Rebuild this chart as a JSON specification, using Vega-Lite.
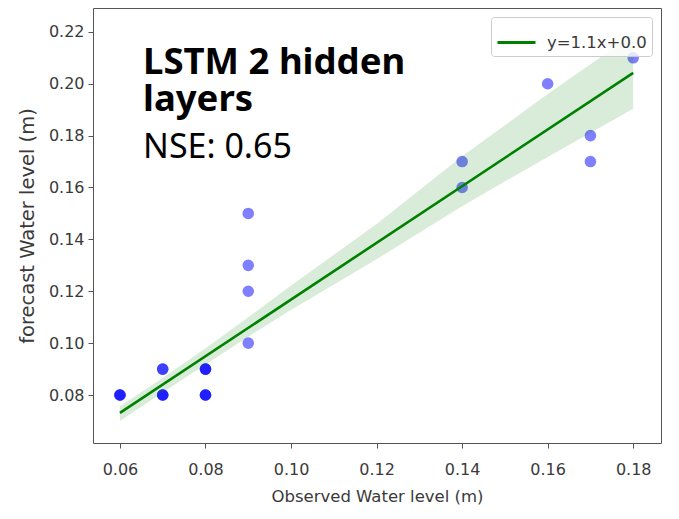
{
  "$schema": "https://vega.github.io/schema/vega-lite/v6.json",
  "width": 568,
  "height": 435,
  "autosize": "none",
  "padding": {"left": 93, "top": 8, "right": 18, "bottom": 76},
  "background": "white",
  "config": {
    "view": {"stroke": "#555555", "strokeWidth": 1},
    "axis": {
      "domain": false,
      "grid": false,
      "tickColor": "#555555",
      "tickSize": 5,
      "labelFont": "DejaVu Sans",
      "labelFontSize": 16,
      "labelColor": "#3a3a3a",
      "titleFont": "DejaVu Sans",
      "titleFontSize": 16.5,
      "titleFontWeight": "normal",
      "titleColor": "#3a3a3a"
    },
    "legend": {
      "orient": "top-right",
      "offset": 9,
      "title": null,
      "strokeColor": "#cccccc",
      "fillColor": "rgba(255,255,255,0.8)",
      "cornerRadius": 3,
      "padding": 5,
      "symbolType": "stroke",
      "symbolStrokeWidth": 3,
      "symbolSize": 1444,
      "labelOffset": 10,
      "labelFont": "DejaVu Sans",
      "labelFontSize": 16.5,
      "labelColor": "#3a3a3a"
    }
  },
  "datasets": {
    "points": [
      {"obs": 0.06, "fc": 0.08}, {"obs": 0.06, "fc": 0.08}, {"obs": 0.06, "fc": 0.08},
      {"obs": 0.07, "fc": 0.08}, {"obs": 0.07, "fc": 0.08}, {"obs": 0.07, "fc": 0.08},
      {"obs": 0.07, "fc": 0.09}, {"obs": 0.07, "fc": 0.09},
      {"obs": 0.08, "fc": 0.09}, {"obs": 0.08, "fc": 0.09}, {"obs": 0.08, "fc": 0.09},
      {"obs": 0.08, "fc": 0.08}, {"obs": 0.08, "fc": 0.08}, {"obs": 0.08, "fc": 0.08},
      {"obs": 0.09, "fc": 0.10}, {"obs": 0.09, "fc": 0.12}, {"obs": 0.09, "fc": 0.13}, {"obs": 0.09, "fc": 0.15},
      {"obs": 0.14, "fc": 0.16}, {"obs": 0.14, "fc": 0.17},
      {"obs": 0.16, "fc": 0.20},
      {"obs": 0.17, "fc": 0.17}, {"obs": 0.17, "fc": 0.18},
      {"obs": 0.18, "fc": 0.21}
    ],
    "band": [
      {"obs": 0.06, "lo": 0.0700, "hi": 0.0757},
      {"obs": 0.07, "lo": 0.0810, "hi": 0.0866},
      {"obs": 0.08, "lo": 0.0918, "hi": 0.0980},
      {"obs": 0.09, "lo": 0.1025, "hi": 0.1100},
      {"obs": 0.10, "lo": 0.1128, "hi": 0.1222},
      {"obs": 0.12, "lo": 0.1323, "hi": 0.1459},
      {"obs": 0.14, "lo": 0.1528, "hi": 0.1720},
      {"obs": 0.16, "lo": 0.1718, "hi": 0.1960},
      {"obs": 0.18, "lo": 0.1904, "hi": 0.2190}
    ],
    "fit": [
      {"obs": 0.06, "fc": 0.0731, "label": "y=1.1x+0.0"},
      {"obs": 0.18, "fc": 0.2042, "label": "y=1.1x+0.0"}
    ],
    "boldText": [
      {"obs": 0.0654, "fc": 0.2038, "t": "LSTM 2 hidden\nlayers"}
    ],
    "normText": [
      {"obs": 0.0654, "fc": 0.1712, "t": "NSE: 0.65"}
    ]
  },
  "layer": [
    {
      "data": {"name": "points"},
      "mark": {"type": "point", "filled": true, "color": "#0000ff", "opacity": 0.5, "size": 135, "strokeWidth": 0},
      "encoding": {
        "x": {
          "field": "obs", "type": "quantitative",
          "scale": {"domain": [0.0537, 0.1865], "nice": false, "zero": false},
          "axis": {"values": [0.06, 0.08, 0.10, 0.12, 0.14, 0.16, 0.18], "format": ".2f", "title": "Observed Water level (m)", "labelPadding": 13, "titlePadding": 11}
        },
        "y": {
          "field": "fc", "type": "quantitative",
          "scale": {"domain": [0.0615, 0.2292], "nice": false, "zero": false},
          "axis": {"values": [0.08, 0.10, 0.12, 0.14, 0.16, 0.18, 0.20, 0.22], "format": ".2f", "title": "forecast Water level (m)", "titleFontSize": 19.5, "labelPadding": 4, "titlePadding": 11}
        }
      }
    },
    {
      "data": {"name": "band"},
      "mark": {"type": "area", "color": "#008000", "opacity": 0.15},
      "encoding": {
        "x": {"field": "obs", "type": "quantitative"},
        "y": {"field": "lo", "type": "quantitative"},
        "y2": {"field": "hi"}
      }
    },
    {
      "data": {"name": "fit"},
      "mark": {"type": "line", "strokeWidth": 2.6},
      "encoding": {
        "x": {"field": "obs", "type": "quantitative"},
        "y": {"field": "fc", "type": "quantitative"},
        "color": {"field": "label", "type": "nominal", "scale": {"range": ["#008000"]}}
      }
    },
    {
      "data": {"name": "boldText"},
      "mark": {"type": "text", "font": "Noto Sans", "fontWeight": "bold", "fontSize": 36.5, "lineBreak": "\n", "lineHeight": 37, "align": "left", "baseline": "alphabetic", "color": "black"},
      "encoding": {
        "x": {"field": "obs", "type": "quantitative"},
        "y": {"field": "fc", "type": "quantitative"},
        "text": {"field": "t"}
      }
    },
    {
      "data": {"name": "normText"},
      "mark": {"type": "text", "font": "Noto Sans", "fontSize": 34, "align": "left", "baseline": "alphabetic", "color": "black"},
      "encoding": {
        "x": {"field": "obs", "type": "quantitative"},
        "y": {"field": "fc", "type": "quantitative"},
        "text": {"field": "t"}
      }
    }
  ]
}
